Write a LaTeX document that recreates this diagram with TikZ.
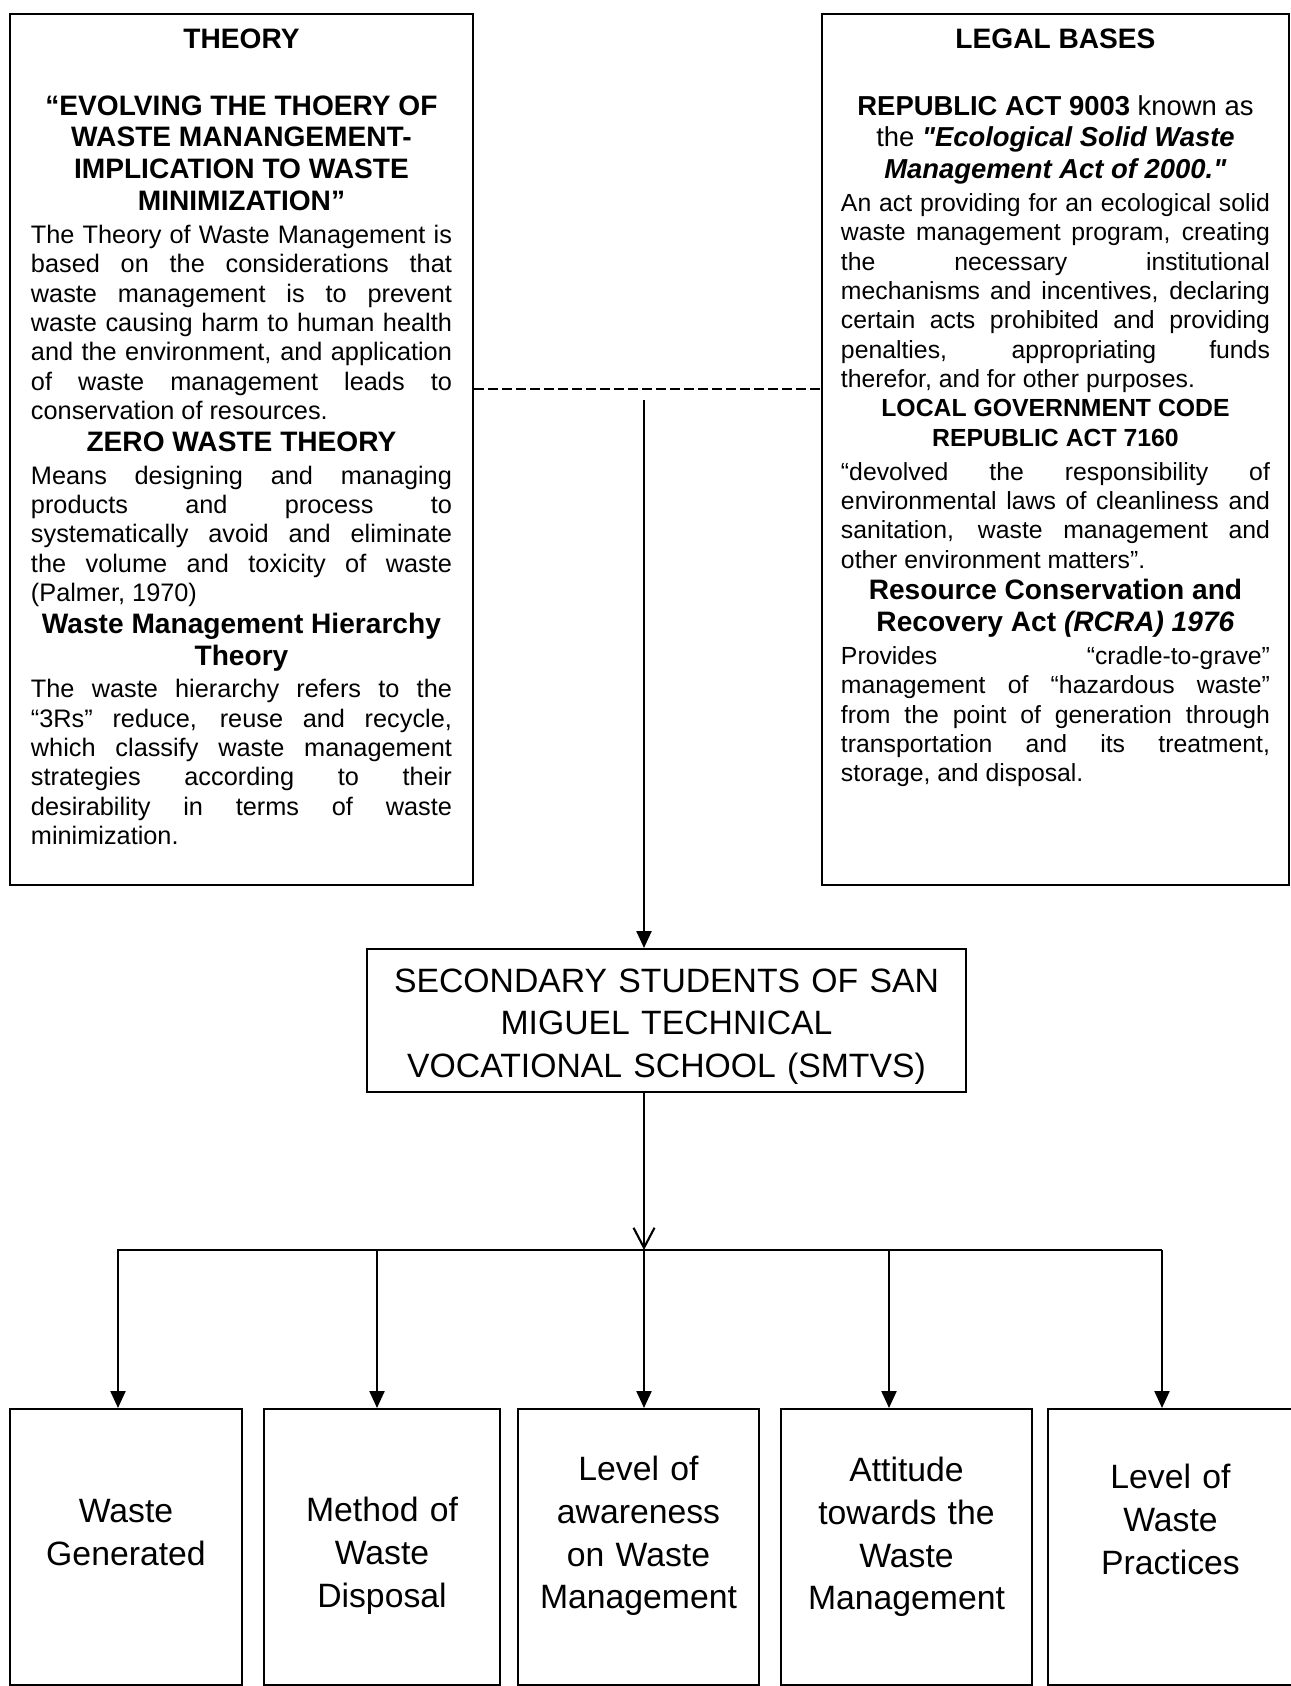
\documentclass[tikz,border=0pt]{standalone}
\usepackage{fontspec}
\setmainfont{Liberation Sans}
\usepackage{tikz}
\usetikzlibrary{
  arrows.meta,
  positioning
}

\newcommand{\hdfont}{\bfseries\fontsize{16}{18.1}\selectfont}
\newcommand{\lawsize}{\fontsize{15.6}{18.1}\selectfont}
\newcommand{\bodyL}{\fontsize{14.4}{16.7}\selectfont}
\newcommand{\bodyR}{\fontsize{14.1}{16.7}\selectfont}
\newcommand{\leaffont}{\fontsize{19.2}{24.2}\selectfont}
\newcommand{\actname}[1]{\textbf{\textit{\addfontfeature{Ligatures=TeXOff}#1}}}

\hyphenpenalty=10000
\exhyphenpenalty=10000
\tolerance=10000
\hbadness=10000
\hfuzz=6pt

\begin{document}
\begin{tikzpicture}[
  panel/.style={
    draw, line width=1.1pt,
    align=justify,
    inner xsep=0.42cm, inner ysep=0.29cm,
    text height=0.41cm, text depth=16.43cm
  },
  leaf/.style={
    draw, line width=1.1pt,
    align=center, inner sep=0pt,
    font=\leaffont
  },
  slot/.style={
    leaf, anchor=north west,
    text width=4.4cm, minimum height=5.52cm
  },
  arrow/.style={
    -{Triangle[length=0.34cm, width=0.3cm]},
    line width=1.3pt
  },
  barb/.style={
    -{Straight Barb[length=0.4cm, width=0.42cm]},
    line width=1.2pt
  },
  link/.style={
    dash pattern=on 0.2cm off 0.08cm,
    line width=1.3pt
  }
]
\useasboundingbox (0,0) rectangle (25.8,-33.72);

\node[panel, text width=8.42cm, anchor=north west] (theory) at (0.18,-0.26) {%
  {\centering\hdfont THEORY\par}
  \vspace{19.5pt}
  {\centering\hdfont “EVOLVING THE THOERY OF\par
    WASTE MANANGEMENT-\par
    IMPLICATION TO WASTE\par
    MINIMIZATION”\par}
  \vspace{2pt}
  {\bodyL The Theory of Waste Management is\linebreak
    based on the considerations that\linebreak
    waste management is to prevent\linebreak
    waste causing harm to human health\linebreak
    and the environment, and application\linebreak
    of waste management leads to\linebreak
    conservation of resources.\par}
  {\centering\hdfont ZERO WASTE THEORY\par}
  \vspace{2pt}
  {\bodyL Means designing and managing\linebreak
    products and process to\linebreak
    systematically avoid and eliminate\linebreak
    the volume and toxicity of waste\linebreak
    (Palmer, 1970)\par}
  {\centering\hdfont Waste Management Hierarchy\par
    Theory\par}
  \vspace{2pt}
  {\bodyL The waste hierarchy refers to the\linebreak
    “3Rs” reduce, reuse and recycle,\linebreak
    which classify waste management\linebreak
    strategies according to their\linebreak
    desirability in terms of waste\linebreak
    minimization.\par}
};

\node[panel, text width=8.58cm, inner xsep=0.38cm, anchor=north west] (legal) at (16.42,-0.26) {%
  {\centering\hdfont LEGAL BASES\par}
  \vspace{19.5pt}
  {\centering\lawsize\textbf{REPUBLIC ACT 9003} known as\par
    the \actname{"Ecological Solid Waste}\par
    \actname{Management Act of 2000."}\par}
  \vspace{2pt}
  {\bodyR An act providing for an ecological solid\linebreak
    waste management program, creating\linebreak
    the necessary institutional\linebreak
    mechanisms and incentives, declaring\linebreak
    certain acts prohibited and providing\linebreak
    penalties, appropriating funds\linebreak
    therefor, and for other purposes.\par}
  {\centering\bodyR\bfseries LOCAL GOVERNMENT CODE\par
    REPUBLIC ACT 7160\par}
  \vspace{2.5pt}
  {\bodyR “devolved the responsibility of\linebreak
    environmental laws of cleanliness and\linebreak
    sanitation, waste management and\linebreak
    other environment matters”.\par}
  {\centering\hdfont Resource Conservation and\par
    Recovery Act \textit{(RCRA) 1976}\par}
  \vspace{2pt}
  {\bodyR Provides “cradle-to-grave”\linebreak
    management of “hazardous waste”\linebreak
    from the point of generation through\linebreak
    transportation and its treatment,\linebreak
    storage, and disposal.\par}
};

\node[leaf, text width=11.6cm, minimum width=11.98cm,
      text height=0.86cm, text depth=2.0cm] (smtvs) at (13.33,-20.41)
  {SECONDARY STUDENTS OF SAN\\MIGUEL TECHNICAL\\VOCATIONAL SCHOOL (SMTVS)};

\node[slot, minimum width=4.64cm, text height=2.28cm, text depth=3.24cm] (waste) at (0.18,-28.16)
  {Waste\\Generated};
\node[slot, minimum width=4.72cm, text height=2.26cm, text depth=3.26cm] (disposal) at (5.26,-28.16)
  {Method of\\Waste\\Disposal};
\node[slot, minimum width=4.82cm, text height=1.44cm, text depth=4.08cm] (awareness) at (10.34,-28.16)
  {Level of\\awareness\\on Waste\\Management};
\node[slot, minimum width=5.02cm, text height=1.46cm, text depth=4.06cm] (attitude) at (15.6,-28.16)
  {Attitude\\towards the\\Waste\\Management};
\node[slot, minimum width=4.9cm, text height=1.6cm, text depth=3.92cm] (practices) at (20.94,-28.16)
  {Level of\\Waste\\Practices};

\coordinate (join) at (12.88,-7.78);
\coordinate[below=0.22cm of join] (drop);
\coordinate (hub) at (12.88,-25.0);
\coordinate (t1) at (2.36,-25.0);
\coordinate (t2) at (7.54,-25.0);
\coordinate (t4) at (17.78,-25.0);
\coordinate (t5) at (23.24,-25.0);

\draw[link] (theory.east |- join) -- (legal.west |- join);
\draw[arrow] (drop) -- (smtvs.north -| drop);
\draw[barb] (smtvs.south -| hub) -- (hub);
\draw[arrow] (t5) -- (t1) -- (t1 |- waste.north);
\draw[arrow] (t2) -- (t2 |- disposal.north);
\draw[arrow] (hub) -- (hub |- awareness.north);
\draw[arrow] (t4) -- (t4 |- attitude.north);
\draw[arrow] (t5) -- (t5 |- practices.north);
\end{tikzpicture}
\end{document}
